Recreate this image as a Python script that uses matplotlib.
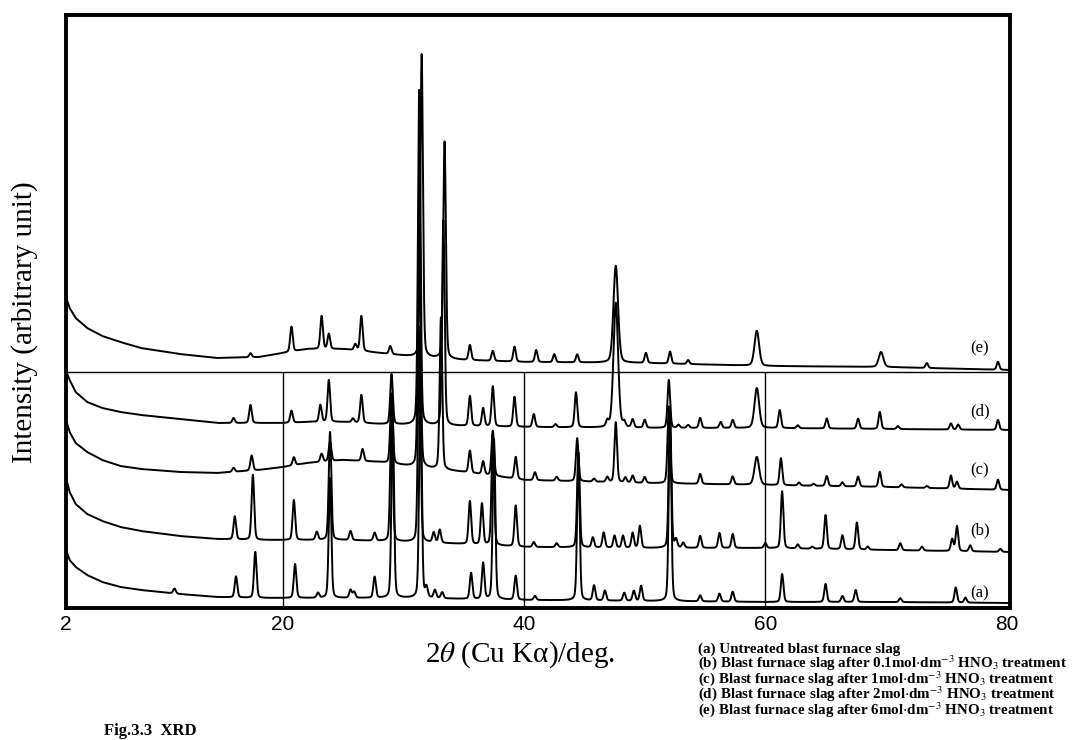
import numpy as np
import matplotlib.pyplot as plt

plt.rcParams['mathtext.fontset'] = 'stix'

# background anchor angles (deg) shared by all five patterns
bg_x = [2.0, 2.3, 2.8, 3.75, 5, 6.5, 8.2, 11.4, 14.5, 18, 20, 22, 25, 28, 31, 35, 40, 50, 60, 70, 80.3]

bg_a = [58, 48, 41, 33, 26, 21, 18, 14, 11, 10, 10, 10, 10, 10, 10, 9, 8, 7, 6, 6, 5]
bg_b = [130, 116, 104, 94, 87, 81, 77, 72, 69, 68, 68, 68, 68, 67, 66, 64, 61, 60, 60, 58, 56]
bg_c = [188, 176, 165, 156, 148, 142, 139, 136, 135, 138, 141, 145, 148, 146, 141, 136, 128, 125, 123, 121, 118]
bg_d = [237, 228, 216, 206, 200, 196, 193, 189, 185, 185, 185, 186, 186, 184, 183, 182, 181, 180, 180, 179, 178]
bg_e = [311, 300, 290, 280, 272, 266, 260, 254, 250, 251, 255, 259, 259, 255, 251, 248, 246, 245, 242, 241, 238]

# peak positions (2theta) and heights above background
pos_a = [11.0, 16.1, 17.7, 21.0, 22.9, 23.9, 25.6, 25.9, 27.6, 29.1, 31.4, 31.9, 32.6, 33.2,
         35.6, 36.6, 37.5, 39.3, 40.9, 44.5, 45.8, 46.7, 48.3, 49.1, 49.7, 52.1, 54.6, 56.2,
         57.3, 61.4, 65.0, 66.4, 67.5, 71.2, 75.8, 76.6]
amp_a = [5, 21, 46, 34, 5, 120, 8, 6, 21, 180, 218, 10, 8, 6,
         26, 36, 160, 24, 4, 143, 15, 10, 8, 10, 15, 183, 6, 8,
         10, 28, 18, 6, 12, 4, 15, 5]

pos_b = [16.0, 17.5, 20.9, 22.8, 23.9, 25.6, 27.6, 29.0, 31.3, 32.5, 33.0, 35.5, 36.5, 37.4,
         39.3, 40.8, 42.7, 44.5, 45.7, 46.6, 47.5, 48.2, 49.0, 49.6, 52.1, 52.6, 53.2, 54.6,
         56.2, 57.3, 60.0, 61.4, 62.7, 63.9, 65.0, 66.4, 67.6, 68.5, 71.2, 73.0, 75.5, 75.9,
         77.0, 79.5]
amp_b = [23, 65, 40, 8, 108, 9, 8, 130, 215, 10, 13, 43, 41, 112,
         41, 5, 4, 95, 10, 15, 12, 12, 15, 22, 135, 8, 5, 12,
         15, 14, 5, 57, 4, 2, 34, 14, 27, 3, 7, 4, 12, 25,
         6, 3]

pos_c = [15.9, 17.4, 20.9, 23.2, 23.9, 26.6, 29.0, 31.3, 33.1, 35.5, 36.6, 37.4, 39.3, 40.9,
         42.7, 44.4, 45.8, 46.9, 47.6, 48.4, 49.0, 50.0, 52.0, 54.6, 57.3, 59.3, 61.3, 62.8,
         64.0, 65.1, 66.4, 67.7, 69.5, 71.3, 73.4, 75.4, 75.9, 79.3]
amp_c = [4, 15, 8, 8, 20, 12, 70, 282, 152, 22, 13, 45, 22, 8,
         4, 43, 3, 5, 60, 5, 7, 6, 77, 10, 8, 28, 27, 3,
         2, 10, 4, 10, 15, 3, 2, 13, 7, 10]

pos_d = [15.9, 17.3, 20.7, 23.1, 23.8, 25.8, 26.5, 29.0, 31.3, 33.3, 35.5, 36.6, 37.4, 39.2,
         40.8, 42.6, 44.3, 46.9, 47.6, 48.3, 49.0, 50.0, 52.0, 52.8, 53.6, 54.6, 56.3, 57.3,
         59.3, 61.2, 62.7, 65.1, 67.7, 69.5, 71.0, 75.4, 76.0, 79.3]
amp_d = [5, 18, 12, 17, 42, 4, 28, 50, 335, 205, 30, 18, 40, 30,
         13, 3, 35, 6, 125, 5, 8, 8, 48, 3, 3, 10, 6, 8,
         40, 18, 3, 10, 10, 17, 3, 6, 5, 10]

pos_e = [17.3, 20.7, 23.2, 23.8, 26.0, 26.5, 28.9, 31.5, 33.4, 35.5, 37.4, 39.2, 41.0, 42.5,
         44.4, 47.6, 50.1, 52.1, 53.6, 59.3, 69.6, 73.4, 79.3]
amp_e = [4, 25, 33, 15, 6, 35, 8, 303, 217, 15, 10, 15, 12, 8,
         8, 97, 10, 12, 4, 35, 15, 5, 8]

# broader reflections
wide_c = [59.3]
wide_d = [47.6, 59.3]
wide_e = [47.6, 59.3, 69.6]

labels = ['(a)', '(b)', '(c)', '(d)', '(e)']
label_y = [15, 78, 138, 197, 260]

legend_lines = [
    '(a) Untreated blast furnace slag',
    '(b) Blast furnace slag after 0.1mol$\\cdot$dm$^{-3}$ HNO$_3$ treatment',
    '(c) Blast furnace slag after 1mol$\\cdot$dm$^{-3}$ HNO$_3$ treatment',
    '(d) Blast furnace slag after 2mol$\\cdot$dm$^{-3}$ HNO$_3$ treatment',
    '(e) Blast furnace slag after 6mol$\\cdot$dm$^{-3}$ HNO$_3$ treatment',
]

ref_y = 236
ref_x = [20, 40, 60]

tt = np.arange(2.0, 80.3, 0.01)


def pattern(bg, pos, amp, wide=()):
    y = np.interp(tt, bg_x, bg)
    for p, a in zip(pos, amp):
        w = 0.45 if p in wide else 0.25
        s = w / 2.3548
        g = np.exp(-0.5 * ((tt - p) / s) ** 2)
        l = 1.0 / (1.0 + ((tt - p) / (w / 2)) ** 2)
        y = y + a * (0.75 * g + 0.25 * l)
    return y


fig = plt.figure(figsize=(10.72, 7.40), dpi=100)
ax = fig.add_axes([66 / 1072, 1 - 608 / 740, (1010 - 66) / 1072, (608 - 15) / 740])

ax.plot(tt, pattern(bg_a, pos_a, amp_a), color='black', lw=1.4)
ax.plot(tt, pattern(bg_b, pos_b, amp_b), color='black', lw=1.4)
ax.plot(tt, pattern(bg_c, pos_c, amp_c, wide_c), color='black', lw=1.4)
ax.plot(tt, pattern(bg_d, pos_d, amp_d, wide_d), color='black', lw=1.4)
ax.plot(tt, pattern(bg_e, pos_e, amp_e, wide_e), color='black', lw=1.4)

ax.axhline(ref_y, color='black', lw=1.0)
ax.vlines(ref_x, 0, ref_y, color='black', lw=1.0)

for lab, yy in zip(labels, label_y):
    ax.text(77.8, yy, lab, family='Liberation Serif', fontsize=12,
            ha='center', va='center')

ax.set_xlim(2, 80.3)
ax.set_ylim(0, 593)
ax.set_yticks([])
ax.set_xticks([2, 20, 40, 60, 80])
ax.set_xticklabels(['2', '20', '40', '60', '80'], family='Liberation Sans', fontsize=15)
ax.tick_params(axis='x', length=0, pad=5)
for sp in ax.spines.values():
    sp.set_linewidth(2.8)

fig.text(520 / 1072, 1 - 655 / 740, '2$\\theta$ (Cu K\u03b1)/deg.',
         family='Liberation Serif', fontsize=21, ha='center', va='center')
fig.text(25 / 1072, 1 - 322 / 740, 'Intensity (arbitrary unit)',
         family='Liberation Serif', fontsize=21, rotation=90, ha='center', va='center')

# sample key, one text block
fig.text(698 / 1072, 1 - 643 / 740, '\n'.join(legend_lines), family='Liberation Serif',
         fontsize=10.8, fontweight='bold', ha='left', va='top', linespacing=0.76)

# figure caption at the bottom edge
fig.text(104 / 1072, 1 / 740, 'Fig.3.3  XRD', family='Liberation Serif',
         fontsize=12, fontweight='bold', ha='left', va='bottom')

fig.savefig('out.png', dpi=100, facecolor='white')
